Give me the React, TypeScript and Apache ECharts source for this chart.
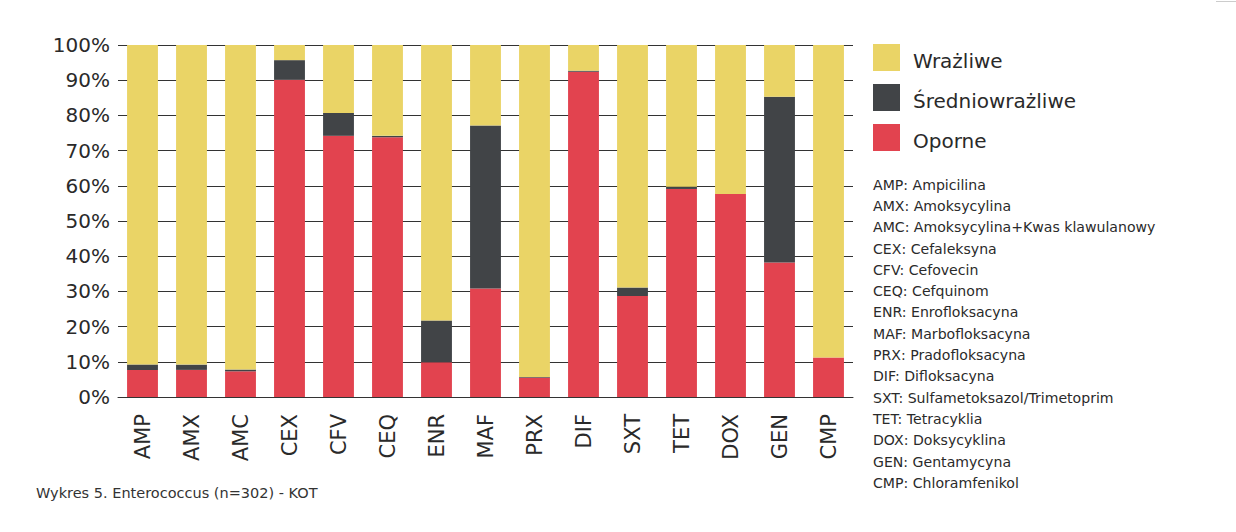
import React, { useEffect, useRef } from "react";
import * as echarts from "echarts";

const categories = ["AMP", "AMX", "AMC", "CEX", "CFV", "CEQ", "ENR", "MAF", "PRX", "DIF", "SXT", "TET", "DOX", "GEN", "CMP"];
const oporne = [7.7, 7.7, 7.3, 90.1, 74.2, 73.8, 9.9, 30.8, 5.5, 92.4, 28.7, 59.1, 57.7, 38.2, 11.2];
const srednio = [1.5, 1.5, 0.5, 5.6, 6.5, 0.4, 11.8, 46.3, 0.2, 0.3, 2.4, 0.6, 0, 47.1, 0];
const wrazliwe = categories.map((_, i) => +(100 - oporne[i] - srednio[i]).toFixed(1));
const legendNames = ["Wrażliwe", "Średniowrażliwe", "Oporne"];
const yTicks = [0, 10, 20, 30, 40, 50, 60, 70, 80, 90, 100];
const abbreviations = [
  "AMP: Ampicilina",
  "AMX: Amoksycylina",
  "AMC: Amoksycylina+Kwas klawulanowy",
  "CEX: Cefaleksyna",
  "CFV: Cefovecin",
  "CEQ: Cefquinom",
  "ENR: Enrofloksacyna",
  "MAF: Marbofloksacyna",
  "PRX: Pradofloksacyna",
  "DIF: Difloksacyna",
  "SXT: Sulfametoksazol/Trimetoprim",
  "TET: Tetracyklia",
  "DOX: Doksycyklina",
  "GEN: Gentamycyna",
  "CMP: Chloramfenikol",
];
const caption = "Wykres 5. Enterococcus (n=302) - KOT";

const COLORS = { yellow: "#EAD466", dark: "#414447", red: "#E2434F" };
const legendColors = [COLORS.yellow, COLORS.dark, COLORS.red];
const FONT = "'DejaVu Sans', sans-serif";
const TEXT = "#2a2a2a";

export default function App() {
  const ref = useRef<HTMLDivElement>(null);
  useEffect(() => {
    if (!ref.current) return;
    const chart = echarts.init(ref.current, undefined, { renderer: "svg" });
    const barW = "63%";
    const legendGraphics: any[] = [];
    legendNames.forEach((name, i) => {
      legendGraphics.push({
        type: "rect",
        shape: { x: 873, y: 44 + 40 * i, width: 27, height: 27 },
        style: { fill: legendColors[i] },
      });
      legendGraphics.push({
        type: "text",
        x: 913,
        y: 61 + 40 * i,
        style: { text: name, fontSize: 20, fill: TEXT, fontFamily: FONT, verticalAlign: "middle" },
      });
    });
    chart.setOption({
      animation: false,
      backgroundColor: "#ffffff",
      textStyle: { fontFamily: FONT },
      grid: { left: 118, right: 383, top: 45, bottom: 135 },
      xAxis: {
        type: "category",
        data: categories,
        axisLine: { show: true, lineStyle: { color: "#333", width: 1 } },
        axisTick: { show: false },
        axisLabel: { rotate: 90, fontSize: 21, color: TEXT, margin: 17, fontFamily: FONT },
      },
      yAxis: {
        type: "value",
        min: yTicks[0],
        max: yTicks[yTicks.length - 1],
        interval: 10,
        axisLine: { show: false },
        axisTick: { show: false },
        axisLabel: { fontSize: 20, color: TEXT, margin: 8, formatter: (v: number) => v + "%", fontFamily: FONT },
        splitLine: { show: true, lineStyle: { color: "#333", width: 1 } },
      },
      series: [
        { name: "Oporne", type: "bar", stack: "a", data: oporne, barWidth: barW, itemStyle: { color: COLORS.red } },
        { name: "Średniowrażliwe", type: "bar", stack: "a", data: srednio, barWidth: barW, itemStyle: { color: COLORS.dark } },
        { name: "Wrażliwe", type: "bar", stack: "a", data: wrazliwe, barWidth: barW, itemStyle: { color: COLORS.yellow } },
      ],
      graphic: [
        ...legendGraphics,
        {
          type: "text",
          left: 873,
          top: 174,
          style: {
            text: abbreviations.join("\n"),
            fontSize: 14.1,
            lineHeight: 21.3,
            fill: TEXT,
            fontFamily: FONT,
          },
        },
        {
          type: "text",
          left: 36,
          top: 485,
          style: { text: caption, fontSize: 14.5, fill: "#333", fontFamily: FONT },
        },
        {
          type: "line",
          shape: { x1: 1216, y1: 1.5, x2: 1236, y2: 1.5 },
          style: { stroke: "#cccccc", lineWidth: 1 },
        },
      ],
    });
    return () => chart.dispose();
  }, []);
  return (
    <div
      ref={ref}
      style={{ position: "fixed", left: 0, top: 0, width: 1236, height: 532, background: "#fff" }}
    />
  );
}
